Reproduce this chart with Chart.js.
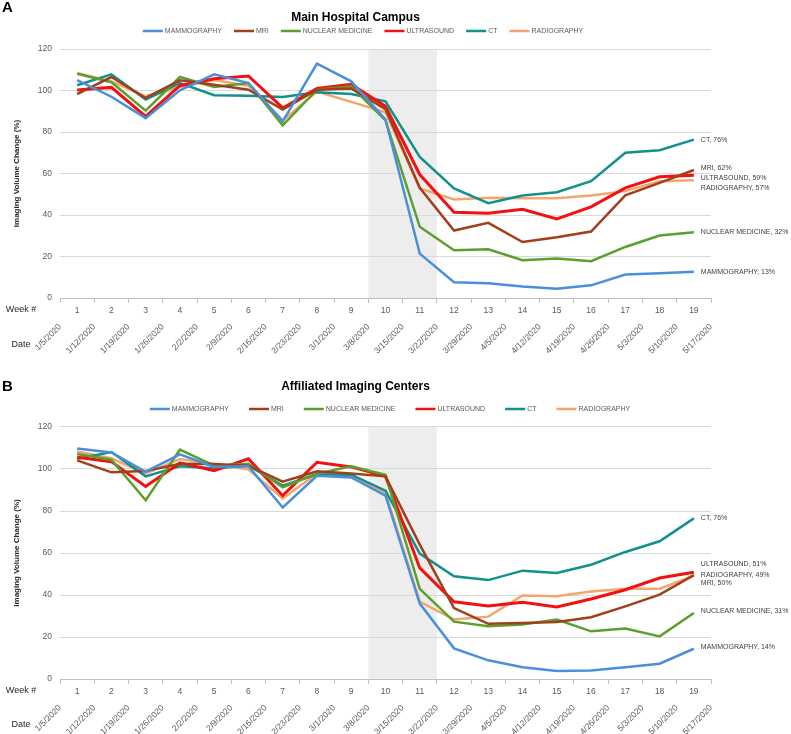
<!DOCTYPE html>
<html>
<head>
<meta charset="utf-8">
<script src="https://cdn.jsdelivr.net/npm/chart.js@4.4.1/dist/chart.umd.min.js"></script>
<style>
  html, body { margin: 0; padding: 0; background: #fff; }
  canvas { display: block; }
</style>
</head>
<body>
<canvas id="chartA" width="791" height="367"></canvas>
<canvas id="chartB" width="791" height="367"></canvas>
<script>
const FONT = "'Liberation Sans', Arial, sans-serif";

const weeks = ['1', '2', '3', '4', '5', '6', '7', '8', '9', '10', '11', '12', '13', '14', '15', '16', '17', '18', '19'];
const dates = ['1/5/2020', '1/12/2020', '1/19/2020', '1/26/2020', '2/2/2020', '2/9/2020', '2/16/2020', '2/23/2020',
  '3/1/2020', '3/8/2020', '3/15/2020', '3/22/2020', '3/29/2020', '4/5/2020', '4/12/2020', '4/19/2020',
  '4/26/2020', '5/3/2020', '5/10/2020', '5/17/2020'];
const modalities = ['MAMMOGRAPHY', 'MRI', 'NUCLEAR MEDICINE', 'ULTRASOUND', 'CT', 'RADIOGRAPHY'];
const colors = ['#4A8FDB', '#A0401A', '#5B9F2D', '#F21010', '#12908C', '#F5A56E'];
const yTicks = [0, 20, 40, 60, 80, 100, 120];
const shadedWeeks = ['10', '11'];

// A - Main Hospital Campus
const mammoA = [105, 97, 86.7, 100.1, 107.8, 103.6, 85.1, 112.9, 104.4, 86, 21.4, 7.6, 7.1, 5.5, 4.5, 6.1, 11.3, 11.9, 12.7];
const mriA = [98.2, 106.5, 96.4, 104.9, 102.8, 100.4, 90.8, 100.4, 101, 91, 53.1, 32.5, 36.2, 27, 29.3, 32, 49.5, 55.5, 61.7];
const nucA = [108.1, 104, 90.3, 106.5, 101.7, 103.6, 83.2, 100.4, 102, 85.6, 34.3, 23, 23.5, 18.2, 19, 17.7, 24.6, 30.1, 31.7];
const usA = [100.2, 101.5, 87.5, 102.3, 105.7, 107, 91.6, 101, 103, 92.4, 59.5, 41.3, 40.9, 42.8, 38.1, 43.9, 53.1, 58.4, 59.2];
const ctA = [102.5, 107.8, 95.6, 103.6, 97.7, 97.5, 96.9, 99.1, 98.3, 94.8, 68, 52.8, 45.7, 49.4, 51, 56.3, 70, 71.2, 76.3];
const radA = [108.5, 104.4, 97.2, 101.7, 105, 102.3, 85.6, 99.5, 94.5, 89.5, 52.8, 47.5, 48.3, 48.1, 48.1, 49.4, 51.5, 56.3, 56.8];
const endPctA = [13, 62, 32, 59, 76, 57];

// B - Affiliated Imaging Centers
const mammoB = [109.8, 107.9, 98.7, 107, 101, 101.3, 81.7, 96.8, 96, 87.3, 35.9, 14.6, 8.9, 5.6, 3.8, 4.1, 5.6, 7.3, 14.4];
const mriB = [104.1, 98.4, 99, 102.5, 102.4, 101.6, 94, 98.9, 97.8, 96.5, 64, 33.8, 26.3, 26.7, 27.1, 29.4, 34.6, 40.2, 49.5];
const nucB = [107.1, 104.4, 85.1, 109.2, 101.6, 102.5, 91.3, 97.8, 101.3, 97.3, 42.9, 27.3, 25.1, 25.9, 28.3, 22.7, 24, 20.3, 31.4];
const usB = [105.6, 103.5, 91.7, 102.9, 99.2, 104.9, 87.3, 103.2, 101, 96.5, 52.9, 36.8, 34.8, 36.5, 34.3, 38.1, 42.5, 48.1, 50.8];
const ctB = [104.9, 108.1, 96.5, 101.3, 100.3, 101.6, 92.1, 97.5, 97.3, 89.7, 59.7, 48.9, 47.1, 51.6, 50.5, 54.4, 60.5, 65.6, 76.5];
const radB = [108.3, 105.1, 97.8, 104.8, 102.4, 99.7, 86, 97.8, 96.8, 88.6, 36.8, 28.3, 29.7, 39.8, 39.4, 41.7, 43, 43, 49.2];
const endPctB = [14, 50, 31, 51, 76, 49];

// shading, panel letter, legend, row captions and end-of-line labels
const panelDecor = {
  id: 'panelDecor',
  beforeDraw(chart, args, o) {
    const { ctx, chartArea, scales: { x } } = chart;
    const i0 = weeks.indexOf(shadedWeeks[0]);
    const i1 = weeks.indexOf(shadedWeeks[shadedWeeks.length - 1]);
    const left = x.getPixelForValue(i0 - 0.5);
    const right = x.getPixelForValue(i1 + 0.5);
    ctx.save();
    ctx.fillStyle = '#EDEDED';
    ctx.fillRect(left, chartArea.top, right - left, chartArea.bottom - chartArea.top);
    ctx.restore();
  },
  afterDraw(chart, args, o) {
    const { ctx, scales: { x, x2, y } } = chart;
    const sets = chart.data.datasets;
    ctx.save();
    ctx.textBaseline = 'middle';
    ctx.fillStyle = '#000';
    ctx.font = 'bold 15px ' + FONT;
    ctx.textAlign = 'left';
    ctx.fillText(o.letter, 2, o.letterY);

    // legend
    ctx.font = '7px ' + FONT;
    const widths = sets.map(ds => ctx.measureText(ds.label).width);
    const total = widths.reduce((s, w) => s + 22 + w, 0) + o.legendGap * (sets.length - 1);
    let cx = o.legendX - total / 2;
    sets.forEach((ds, i) => {
      ctx.strokeStyle = ds.borderColor;
      ctx.lineWidth = 2.5;
      ctx.beginPath();
      ctx.moveTo(cx, o.legendY);
      ctx.lineTo(cx + 20, o.legendY);
      ctx.stroke();
      ctx.fillStyle = '#595959';
      ctx.fillText(ds.label, cx + 22, o.legendY);
      cx += 22 + widths[i] + o.legendGap;
    });

    ctx.fillStyle = '#262626';
    ctx.font = '9px ' + FONT;
    ctx.textAlign = 'center';
    ctx.fillText('Week #', 21, x.top + 12);
    ctx.fillText('Date', 21, x2.top + o.dateRow);

    ctx.fillStyle = '#404040';
    ctx.font = '7px ' + FONT;
    ctx.textAlign = 'left';
    sets.forEach((ds, i) => {
      const last = ds.data.length - 1;
      const px = x.getPixelForValue(last);
      const py = y.getPixelForValue(ds.data[last]);
      ctx.fillText(ds.label + ', ' + o.endPct[i] + '%', px + 7, py + o.shift[i]);
    });
    ctx.restore();
  }
};

function buildPanel(id, letter, title, series, endPct, lay) {
  return new Chart(document.getElementById(id), {
    type: 'line',
    data: {
      labels: weeks,
      datasets: modalities.map((name, i) => ({
        label: name,
        data: series[i],
        borderColor: colors[i],
        backgroundColor: colors[i],
        borderWidth: i === 3 ? 3 : 2.5,
        pointRadius: 0,
        tension: 0,
        xAxisID: 'x',
        yAxisID: 'y'
      }))
    },
    options: {
      responsive: false,
      animation: false,
      events: [],
      layout: { padding: { top: 0, right: 80, bottom: 0, left: 0 } },
      plugins: {
        title: {
          display: true,
          text: title,
          color: '#000',
          font: { family: FONT, size: 12, weight: 'bold' },
          padding: { top: lay.titleTop, bottom: lay.titleBottom }
        },
        legend: { display: false },
        tooltip: { enabled: false },
        panelDecor: {
          letter: letter, letterY: lay.letterY, endPct: endPct, shift: lay.shift, dateRow: lay.dateRow,
          legendX: lay.legendX, legendY: lay.legendY, legendGap: lay.legendGap
        }
      },
      scales: {
        x: {
          type: 'category',
          position: 'bottom',
          offset: true,
          grid: { drawOnChartArea: false, drawTicks: true, tickLength: 5, color: '#BFBFBF', offset: true },
          border: { display: true, color: '#BFBFBF' },
          ticks: { color: '#595959', font: { family: FONT, size: 8.5 }, padding: 3, maxRotation: 0, autoSkip: false },
          afterFit: s => { s.height = 20; }
        },
        x2: {
          type: 'category',
          position: 'bottom',
          labels: dates,
          offset: false,
          weight: 1,
          grid: { display: false },
          border: { display: false },
          ticks: { color: '#595959', font: { family: FONT, size: 8.5 }, minRotation: 45, maxRotation: 45, autoSkip: false, padding: -4 },
          afterFit: s => { s.height = lay.dateH; }
        },
        y: {
          min: 0,
          max: 120,
          afterBuildTicks: s => { s.ticks = yTicks.map(v => ({ value: v })); },
          grid: { color: '#D9D9D9', drawTicks: false },
          border: { display: false },
          ticks: { color: '#595959', font: { family: FONT, size: 8.5 }, padding: 8 },
          title: {
            display: true,
            text: 'Imaging Volume Change (%)',
            color: '#262626',
            font: { family: FONT, size: 8, weight: 'bold' },
            padding: { top: 12, bottom: 0 }
          },
          afterFit: s => { s.width = 60; }
        }
      }
    },
    plugins: [panelDecor]
  });
}

buildPanel('chartA', 'A', 'Main Hospital Campus', [mammoA, mriA, nucA, usA, ctA, radA], endPctA, {
  titleTop: 10, titleBottom: 24.6, letterY: 8, dateRow: 27, dateH: 49,
  legendX: 363, legendY: 31, legendGap: 12,
  shift: [0, -2, 0, 3, 0, 8]
});
buildPanel('chartB', 'B', 'Affiliated Imaging Centers', [mammoB, mriB, nucB, usB, ctB, radB], endPctB, {
  titleTop: 12.8, titleBottom: 32.8, letterY: 20, dateRow: 26, dateH: 35,
  legendX: 390, legendY: 42, legendGap: 20,
  shift: [-2, 8, -2, -8, 0, -1]
});
</script>
</body>
</html>
